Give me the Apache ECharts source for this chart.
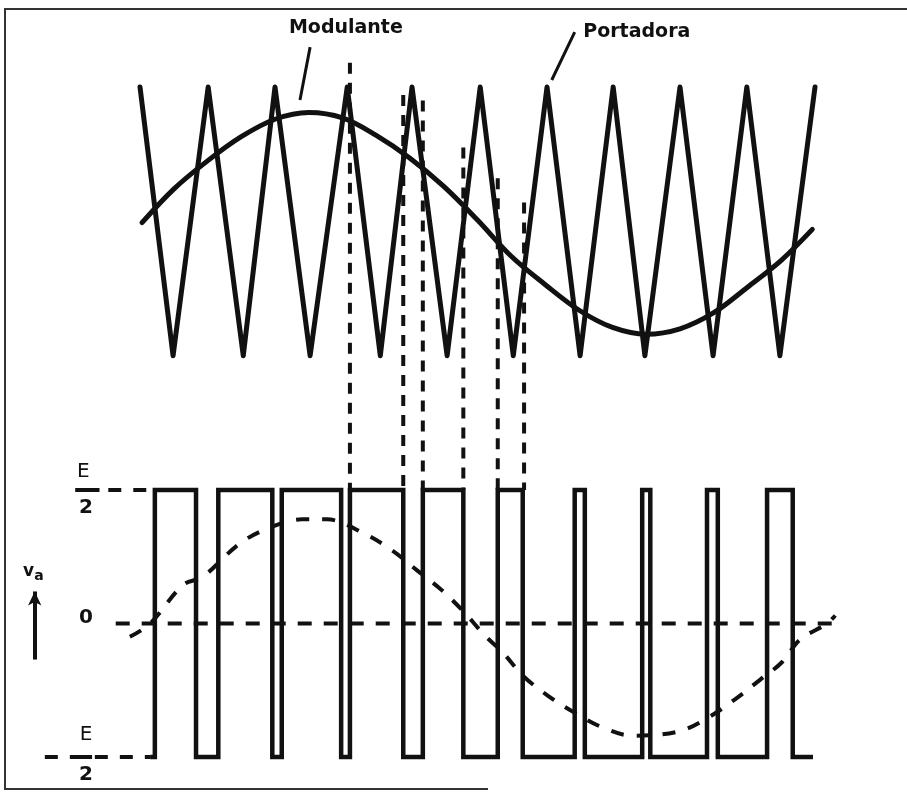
<!DOCTYPE html>
<html><head><meta charset="utf-8">
<script src="https://cdn.jsdelivr.net/npm/echarts@6/dist/echarts.min.js"></script>
<style>html,body{margin:0;padding:0;background:#fff}#c{width:907px;height:795px}</style>
</head><body><div id="c"></div>
<script>
// ---- data (time in carrier periods, levels normalised) ----
// Portadora (triangular carrier) vertices
const carrierT = [0, 0.49, 1.01, 1.53, 2.0, 2.52, 3.07, 3.56, 4.03, 4.55, 5.04, 5.53, 6.03, 6.52, 7.01, 7.48, 8.0, 8.49, 8.99, 9.48, 10.0];
const carrierV = [1, -1, 1, -1, 1, -1, 1, -1, 1, -1, 1, -1, 1, -1, 1, -1, 1, -1, 1, -1, 1];
// Modulante (sine reference) samples
const modT = [0.03, 0.5, 1.0, 1.5, 2.0, 2.5, 3.0, 3.5, 4.0, 4.5, 5.0, 5.5, 6.0, 6.5, 7.0, 7.5, 8.0, 8.5, 9.0, 9.5, 9.96];
const modV = [-0.01, 0.24, 0.45, 0.63, 0.76, 0.81, 0.77, 0.64, 0.47, 0.26, 0.01, -0.26, -0.47, -0.66, -0.79, -0.84, -0.80, -0.68, -0.49, -0.29, -0.06];
// PWM output v_a: switching instants (starts low at -E/2)
const pwmStart = 0.15, pwmEnd = 9.97;
const pwmEdges = [0.22, 0.83, 1.16, 1.96, 2.10, 2.98, 3.11, 3.90, 4.19, 4.79, 5.30, 5.67, 6.44, 6.59, 7.44, 7.56, 8.40, 8.56, 9.29, 9.67];
// fundamental of v_a (dashed curve in lower panel)
const fundT = [-0.15, 0.15, 0.64, 0.93, 1.48, 1.93, 2.40, 2.77, 3.30, 3.73, 4.10, 4.47, 4.81, 5.11, 5.38, 5.67, 6.04, 6.41, 6.86, 7.30, 7.97, 8.40, 8.81, 9.19, 9.51, 9.78, 10.18, 10.30];
const fundV = [-0.10, 0.0, 0.29, 0.35, 0.60, 0.72, 0.78, 0.78, 0.68, 0.55, 0.40, 0.25, 0.08, -0.09, -0.22, -0.39, -0.54, -0.66, -0.78, -0.84, -0.81, -0.71, -0.57, -0.42, -0.29, -0.12, 0.0, 0.06];
// projection lines: instant and starting level on the upper panel
const projT = [3.11, 3.90, 4.19, 4.79, 5.30, 5.69];
const projTop = [1.18, 0.94, 0.90, 0.55, 0.32, 0.14];
// texts
const labelMod = 'Modulante', labelCar = 'Portadora';
const levelHigh = 1, levelLow = -1;

// ---- build ----
const INK = '#111';
const pair = (ts, vs) => ts.map((t, i) => [t, vs[i]]);
const pwm = [[pwmStart, levelLow]];
let lvl = levelLow;
pwmEdges.forEach(t => { pwm.push([t, lvl]); lvl = (lvl === levelLow ? levelHigh : levelLow); pwm.push([t, lvl]); });
pwm.push([pwmEnd, lvl]);
const proj = [];
projT.forEach((t, i) => { proj.push([t, projTop[i]]); proj.push([t, -2]); proj.push([t, null]); });

const xAx = (gi) => ({ gridIndex: gi, type: 'value', min: -2, max: 11, show: false });
const font = 'DejaVu Sans, Liberation Sans, sans-serif';
const txt = (t, v, s, st) => ({ value: [t, v], label: Object.assign({ show: true, formatter: s, position: 'inside', color: INK, fontFamily: font, textBorderWidth: 0, opacity: 1 }, st) });

const chart = echarts.init(document.getElementById('c'), null, { renderer: 'canvas' });
chart.setOption({
  backgroundColor: '#fff',
  animation: false,
  grid: [
    { left: 5, right: 24.5, top: 87, height: 403 },
    { left: 5, right: 24.5, top: 490, height: 267 }
  ],
  xAxis: [xAx(0), xAx(1)],
  yAxis: [
    { gridIndex: 0, type: 'value', min: -2, max: 1, show: false },
    { gridIndex: 1, type: 'value', min: -1, max: 1, show: false }
  ],
  graphic: [
    { type: 'line', shape: { x1: 4, y1: 9, x2: 907, y2: 9 }, style: { stroke: '#333', lineWidth: 2 } },
    { type: 'line', shape: { x1: 5, y1: 9, x2: 5, y2: 790 }, style: { stroke: '#333', lineWidth: 2 } },
    { type: 'line', shape: { x1: 5, y1: 789, x2: 488, y2: 789 }, style: { stroke: '#333', lineWidth: 2 } }
  ],
  series: [
    { name: labelCar, type: 'line', xAxisIndex: 0, yAxisIndex: 0, data: pair(carrierT, carrierV), symbol: 'none', clip: false,
      lineStyle: { color: INK, width: 5, join: 'round', cap: 'round' } },
    { name: labelMod, type: 'line', xAxisIndex: 0, yAxisIndex: 0, data: pair(modT, modV), symbol: 'none', smooth: 0.35, clip: false,
      lineStyle: { color: INK, width: 5, cap: 'round' } },
    { name: 'proj', type: 'line', xAxisIndex: 0, yAxisIndex: 0, data: proj, symbol: 'none', clip: false, connectNulls: false,
      lineStyle: { color: INK, width: 4, type: [11, 9] } },
    { name: 'leaders', type: 'line', xAxisIndex: 0, yAxisIndex: 0, symbol: 'none', clip: false,
      data: [[2.52, 1.297], [2.37, 0.903], [null, null], [6.44, 1.408], [6.10, 1.052]],
      lineStyle: { color: INK, width: 3 } },
    { name: 'topText', type: 'scatter', xAxisIndex: 0, yAxisIndex: 0, symbolSize: 0, clip: false, silent: true,
      itemStyle: { color: INK, opacity: 1 },
      data: [txt(3.05, 1.438, labelMod, { fontSize: 19, fontWeight: 'bold' }), txt(7.36, 1.408, labelCar, { fontSize: 19, fontWeight: 'bold' })] },
    { name: 'v_a', type: 'line', xAxisIndex: 1, yAxisIndex: 1, data: pwm, symbol: 'none', clip: false,
      lineStyle: { color: INK, width: 4.5, join: 'miter' } },
    { name: 'fund', type: 'line', xAxisIndex: 1, yAxisIndex: 1, data: pair(fundT, fundV), symbol: 'none', smooth: 0.35, clip: false,
      lineStyle: { color: INK, width: 4, type: [13, 13] } },
    { name: 'zero', type: 'line', xAxisIndex: 1, yAxisIndex: 1, data: [[-0.36, 0], [10.27, 0]], symbol: 'none', clip: false,
      lineStyle: { color: INK, width: 4, type: [14, 12] } },
    { name: 'levels', type: 'line', xAxisIndex: 1, yAxisIndex: 1, symbol: 'none', clip: false,
      data: [[-0.47, levelHigh], [pwmStart, levelHigh], [null, null], [-1.41, levelLow], [pwmStart, levelLow]],
      lineStyle: { color: INK, width: 4, type: [13, 12] },
      markLine: { silent: true, symbol: ['none', 'arrow'], symbolSize: [10, 14], label: { show: false },
        lineStyle: { color: INK, width: 4, type: 'solid' },
        data: [[{ coord: [-1.56, -0.27] }, { coord: [-1.56, 0.24] }]] } },
    { name: 'bars', type: 'line', xAxisIndex: 1, yAxisIndex: 1, symbol: 'none', clip: false,
      data: [[-0.96, levelHigh], [-0.60, levelHigh], [null, null], [-0.96, levelLow], [-0.71, levelLow]],
      lineStyle: { color: INK, width: 4 } },
    { name: 'levelText', type: 'scatter', xAxisIndex: 1, yAxisIndex: 1, symbolSize: 0, clip: false, silent: true,
      itemStyle: { color: INK, opacity: 1 },
      data: [
        txt(-0.84, 1.135, 'E', { fontSize: 20 }),
        txt(-0.80, 0.865, '2', { fontSize: 20, fontWeight: 'bold' }),
        txt(-0.80, 0.04, '0', { fontSize: 20, fontWeight: 'bold' }),
        txt(-0.80, -0.835, 'E', { fontSize: 20 }),
        txt(-0.80, -1.13, '2', { fontSize: 20, fontWeight: 'bold' }),
        { value: [-1.58, 0.39], label: { show: true, position: 'inside', color: INK, fontFamily: font, textBorderWidth: 0,
          formatter: '{v|v}{a|a}', rich: { v: { fontSize: 17, fontWeight: 'bold', color: INK, fontFamily: font }, a: { fontSize: 14, fontWeight: 'bold', color: INK, fontFamily: font, padding: [10, 0, 0, 0] } } } }
      ] }
  ]
});
</script></body></html>
